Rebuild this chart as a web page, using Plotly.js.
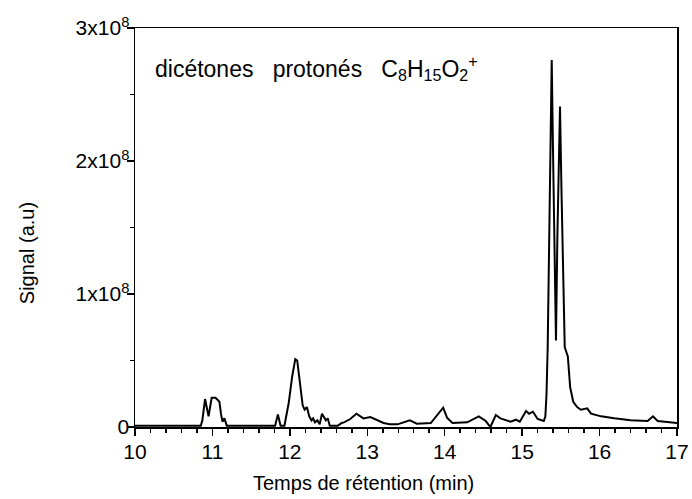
<!DOCTYPE html>
<html>
<head>
<meta charset="utf-8">
<script src="https://cdn.plot.ly/plotly-3.0.1.min.js"></script>
<style>html,body{margin:0;padding:0;background:#fff;}#chart{width:692px;height:499px;}</style>
</head>
<body>
<div id="chart"></div>
<script>
// Retention time (min)
const time = [10.00,10.50,10.85,10.87,10.905,10.95,10.99,11.04,11.09,11.11,11.13,11.155,11.185,11.50,11.81,11.845,11.88,11.93,11.985,12.03,12.07,12.095,12.135,12.165,12.19,12.22,12.25,12.28,12.30,12.325,12.355,12.385,12.415,12.435,12.465,12.49,12.515,12.62,12.67,12.70,12.78,12.86,12.95,13.04,13.13,13.21,13.29,13.39,13.55,13.64,13.82,13.88,13.98,14.03,14.10,14.29,14.44,14.53,14.59,14.66,14.72,14.85,14.92,14.97,15.05,15.09,15.14,15.20,15.28,15.30,15.315,15.33,15.347,15.365,15.382,15.399,15.416,15.437,15.455,15.472,15.489,15.507,15.53,15.55,15.59,15.62,15.66,15.71,15.76,15.84,15.89,16.02,16.19,16.40,16.62,16.69,16.75,16.88,17.00];
// Signal in units of 1e8 (a.u)
const signalE8 = [0.01,0.01,0.01,0.05,0.21,0.08,0.22,0.22,0.19,0.10,0.04,0.065,0.01,0.01,0.01,0.095,0.01,0.01,0.18,0.38,0.51,0.50,0.30,0.165,0.13,0.15,0.08,0.05,0.065,0.035,0.05,0.02,0.10,0.08,0.05,0.065,0.01,0.01,0.03,0.035,0.06,0.10,0.065,0.075,0.05,0.03,0.02,0.02,0.05,0.025,0.03,0.07,0.145,0.07,0.03,0.035,0.08,0.045,0.0,0.09,0.065,0.04,0.055,0.04,0.12,0.10,0.115,0.06,0.045,0.08,0.25,0.60,1.31,2.06,2.76,2.06,1.31,0.65,1.43,2.06,2.41,1.81,1.05,0.60,0.53,0.30,0.19,0.15,0.13,0.14,0.10,0.08,0.065,0.05,0.045,0.08,0.045,0.04,0.03];
const SCALE = 1e8;
const yTickVals = [0, 1e8, 2e8, 3e8];
const yTickText = ['0', '1x10<sup>8</sup>', '2x10<sup>8</sup>', '3x10<sup>8</sup>'];
const xTickVals = [10, 11, 12, 13, 14, 15, 16, 17];
const labelText = 'dicétones&nbsp;&nbsp;&nbsp;protonés&nbsp;&nbsp;&nbsp;C<sub>8</sub>H<sub>15</sub>O<sub>2</sub><sup>+</sup>';
const xTitle = 'Temps de rétention (min)';
const yTitle = 'Signal (a.u)';

const FONT = 'Liberation Sans, Arial, sans-serif';
const trace = {
  x: time,
  y: signalE8.map(v => v * SCALE),
  type: 'scatter',
  mode: 'lines',
  line: {color: '#000', width: 2},
  hoverinfo: 'skip'
};
const axisCommon = {
  ticks: 'outside', ticklen: 7, tickwidth: 1.5, tickcolor: '#000',
  showline: true, linewidth: 1.5, linecolor: '#000', mirror: true,
  showgrid: false, zeroline: false,
  tickfont: {family: FONT, size: 21, color: '#000'}
};
const layout = {
  width: 692, height: 499,
  margin: {l: 135, r: 15, t: 28, b: 72},
  paper_bgcolor: '#fff', plot_bgcolor: '#fff',
  showlegend: false,
  font: {family: FONT, size: 20, color: '#000'},
  xaxis: Object.assign({}, axisCommon, {
    range: [10, 17], tickvals: xTickVals, ticktext: xTickVals.map(String),
    ticklabelstandoff: -2,
    minor: {dtick: 0.2, ticks: 'outside', ticklen: 4, tickwidth: 1.5, tickcolor: '#000', showgrid: false}
  }),
  yaxis: Object.assign({}, axisCommon, {
    range: [0, 3e8], tickvals: yTickVals, ticktext: yTickText,
    ticklabelstandoff: -7,
    minor: {dtick: 0.5e8, ticks: 'outside', ticklen: 4, tickwidth: 1.5, tickcolor: '#000', showgrid: false}
  }),
  annotations: [
    {xref: 'paper', yref: 'paper', x: 0.034, y: 0.9, xanchor: 'left', yanchor: 'middle',
     text: labelText, showarrow: false, font: {family: FONT, size: 23, color: '#000'}},
    {xref: 'paper', yref: 'paper', x: 0.4225, y: -0.14, xanchor: 'center', yanchor: 'middle',
     text: xTitle, showarrow: false, font: {family: FONT, size: 20, color: '#000'}},
    {xref: 'paper', yref: 'paper', x: -0.199, y: 0.436, xanchor: 'center', yanchor: 'middle',
     text: yTitle, textangle: -90, showarrow: false, font: {family: FONT, size: 20, color: '#000'}}
  ]
};
Plotly.newPlot('chart', [trace], layout, {displayModeBar: false, staticPlot: true});
</script>
</body>
</html>
